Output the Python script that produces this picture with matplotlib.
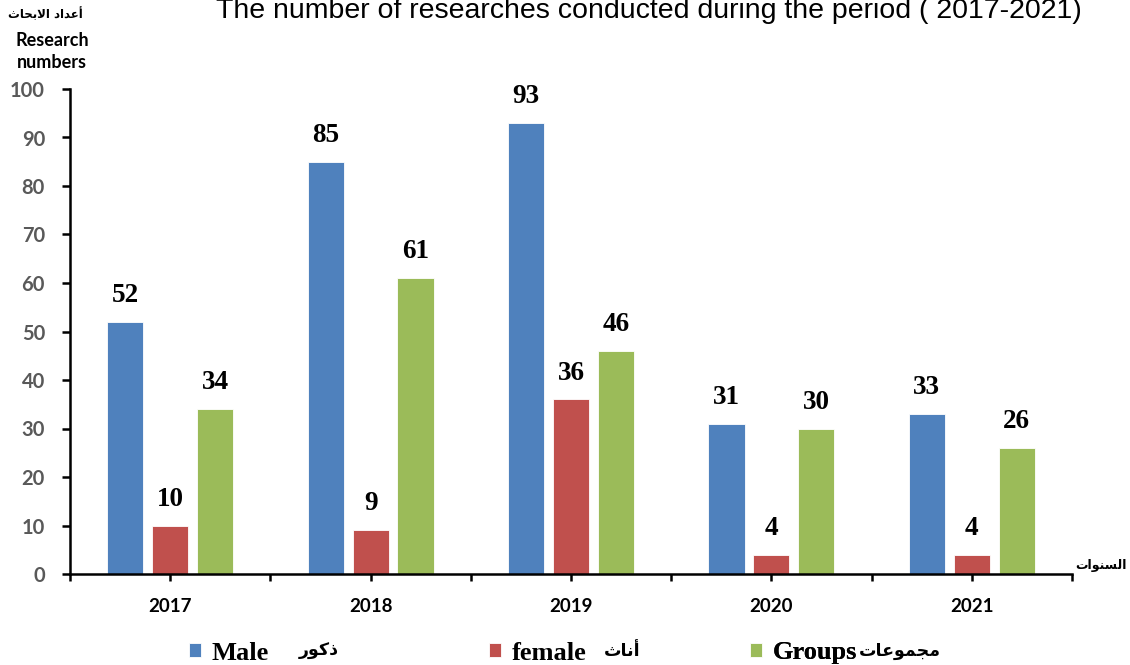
import matplotlib
matplotlib.use("Agg")
import matplotlib.pyplot as plt
import numpy as np

years = ["2017", "2018", "2019", "2020", "2021"]
male = [52, 85, 93, 31, 33]
female = [10, 9, 36, 4, 4]
groups = [34, 61, 46, 30, 26]

# Arabic strings, pre-shaped (presentation forms, visual order) since matplotlib does no shaping
ar_ylabel = "\ufe99\ufe8e\ufea4\ufe91\ufefb\ufe8d \ufea9\ufe8d\ufeaa\ufecb\ufe83"   # أعداد الابحاث
ar_years = "\ufe95\ufe8d\ufeee\ufee8\ufeb4\ufedf\ufe8d"                            # السنوات
ar_male = "\ufead\ufeee\ufedb\ufeab"                                               # ذكور
ar_female = "\ufe99\ufe8e\ufee7\ufe83"                                             # أناث
ar_groups = "\ufe95\ufe8e\ufecb\ufeee\ufee4\ufea0\ufee3"                           # مجموعات

colors = ["#4F81BD", "#C0504D", "#9BBB59"]
tick_font = ["Lato", "DejaVu Sans"]

fig = plt.figure(figsize=(11.3, 6.65), dpi=100)
ax = fig.add_axes([70 / 1130, 91 / 665, 1002 / 1130, 485 / 665])

x = np.arange(len(years))
w = 0.18
off = 0.224
series = [male, female, groups]
bars = []
for i, vals in enumerate(series):
    b = ax.bar(x + (i - 1) * off, vals, w, color=colors[i], edgecolor="white", linewidth=0.6)
    bars.append(b)
    for xi, v in zip(x + (i - 1) * off, vals):
        ax.annotate(str(v), (xi, v), xytext=(0, 10), textcoords="offset points",
                    ha="center", va="bottom", fontsize=19.5, fontweight="bold",
                    family="Liberation Serif")

ax.set_xlim(-0.5, 4.5)
ax.set_ylim(0, 100)
ax.set_yticks(range(0, 101, 10))
ax.set_xticks(np.arange(-0.5, 4.6, 0.5))
ax.set_xticklabels(["" if k % 2 == 0 else years[k // 2] for k in range(11)])
for s in ["top", "right"]:
    ax.spines[s].set_visible(False)
for s in ["left", "bottom"]:
    ax.spines[s].set_linewidth(1.8)
ax.tick_params(axis="y", direction="out", length=6, width=1.8, pad=12,
               labelsize=14.5, labelcolor="#595959")
ax.tick_params(axis="x", direction="out", length=5, width=1.8, pad=12,
               labelsize=13.5, labelcolor="black")
for lab in ax.get_yticklabels() + ax.get_xticklabels():
    lab.set_family(tick_font)
    lab.set_fontweight("bold")

fig.text(649 / 1130, 1 - 11 / 665, "The number of researches conducted during the period ( 2017-2021)",
         ha="center", va="center", fontsize=20.5, family="Liberation Sans")
fig.text(45 / 1130, 1 - 14 / 665, ar_ylabel, ha="center", va="center",
         fontsize=8.5, fontweight="bold", family="DejaVu Sans")
fig.text(52 / 1130, 1 - 41 / 665, "Research", ha="center", va="center",
         fontsize=13, fontweight="bold", family=tick_font)
fig.text(52 / 1130, 1 - 63 / 665, "numbers", ha="center", va="center",
         fontsize=13, fontweight="bold", family=tick_font)
fig.text(1101 / 1130, 1 - 566 / 665, ar_years, ha="center", va="center",
         fontsize=9, fontweight="bold", family="DejaVu Sans")

labels = ["Male", "female", "Groups"]
lx = [176, 476, 737]
ar_labels = [ar_male, ar_female, ar_groups]
ar_x = [319, 622, 900]
for b, lab, px, ar, ax_ in zip(bars, labels, lx, ar_labels, ar_x):
    lg = ax.legend([b], [lab], loc="center left", bbox_to_anchor=(px / 1130, 1 - 653 / 665),
                   bbox_transform=fig.transFigure, frameon=False, handlelength=0.45,
                   handleheight=0.45, handletextpad=0.4, borderpad=0,
                   prop={"family": "Liberation Serif", "weight": "bold", "size": 19})
    ax.add_artist(lg)
    fig.text(ax_ / 1130, 1 - 651 / 665, ar, ha="center", va="center",
             fontsize=12.5, fontweight="bold", family="DejaVu Sans")

fig.savefig("out.png", dpi=100)
